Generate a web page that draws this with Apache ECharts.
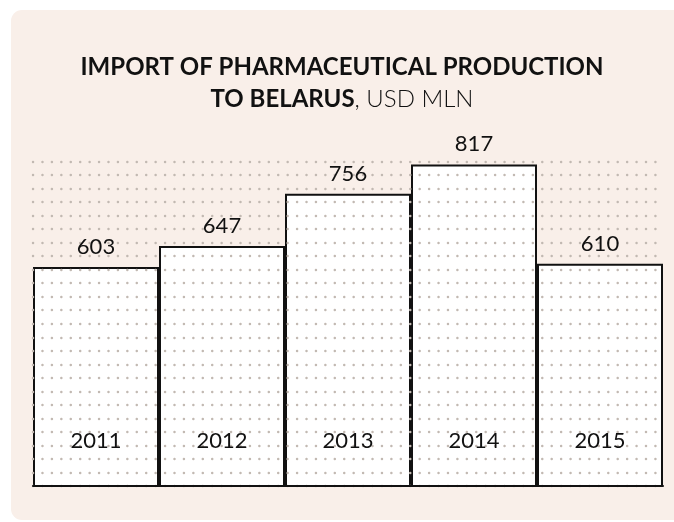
<!DOCTYPE html>
<html>
<head>
<meta charset="utf-8">
<script src="https://cdn.jsdelivr.net/npm/echarts@6/dist/echarts.min.js"></script>
<style>
html,body{margin:0;padding:0;background:#ffffff;}
#chart{width:674px;height:522px;}
</style>
</head>
<body>
<div id="chart"></div>
<script>
var years = ['2011', '2012', '2013', '2014', '2015'];
var importValues = [603, 647, 756, 817, 610];
var titleLine1 = 'IMPORT OF PHARMACEUTICAL PRODUCTION';
var titleLine2Bold = 'TO BELARUS';
var titleLine2Light = ', USD MLN';

var chart = echarts.init(document.getElementById('chart'), null, {renderer: 'canvas'});
var FONT = 'Lato';
var option = {
  backgroundColor: '#ffffff',
  animation: false,
  graphic: [{
    type: 'rect',
    z: -10,
    silent: true,
    shape: {x: 11, y: 10, width: 700, height: 510, r: 11},
    style: {fill: '#f9efe9'}
  }],
  title: {
    left: 337,
    top: 46,
    textAlign: 'center',
    text: '{b|' + titleLine1 + '}\n{b|' + titleLine2Bold + '}{l|' + titleLine2Light + '}',
    textStyle: {
      rich: {
        b: {fontFamily: FONT, fontWeight: 'bold', fontSize: 24, color: '#111111', lineHeight: 32},
        l: {fontFamily: FONT, fontWeight: 300, fontSize: 24, color: '#111111', lineHeight: 32}
      }
    }
  },
  grid: {left: 33, right: 11, top: 161.5, bottom: 36, containLabel: false},
  xAxis: {
    type: 'category',
    data: years,
    z: 6,
    axisLine: {show: true, lineStyle: {color: '#111111', width: 2}},
    axisTick: {show: false},
    axisLabel: {inside: true, margin: 34, fontFamily: FONT, fontSize: 22, color: '#111111'},
    splitLine: {show: false}
  },
  yAxis: [{
    type: 'value',
    min: 147,
    max: 823,
    show: false,
    splitLine: {show: false}
  }, {
    type: 'value',
    min: 0,
    max: 24,
    interval: 1,
    z: 4,
    axisLine: {show: false},
    axisTick: {show: false},
    axisLabel: {show: false},
    splitLine: {show: true, lineStyle: {color: '#c2b9b2', width: 2.4, type: [0.1, 9.33], cap: 'round'}}
  }],
  series: [{
    type: 'bar',
    yAxisIndex: 0,
    data: importValues,
    barWidth: '100%',
    barCategoryGap: 0,
    z: 2,
    silent: true,
    itemStyle: {color: '#ffffff', borderColor: '#111111', borderWidth: 2}
  }, {
    type: 'bar',
    yAxisIndex: 0,
    data: importValues,
    barWidth: '100%',
    barGap: '-100%',
    z: 10,
    silent: true,
    itemStyle: {color: 'rgba(0,0,0,0)'},
    label: {show: true, position: 'top', distance: 9, fontFamily: FONT, fontSize: 22, color: '#111111'}
  }]
};
chart.setOption(option);
</script>
</body>
</html>
